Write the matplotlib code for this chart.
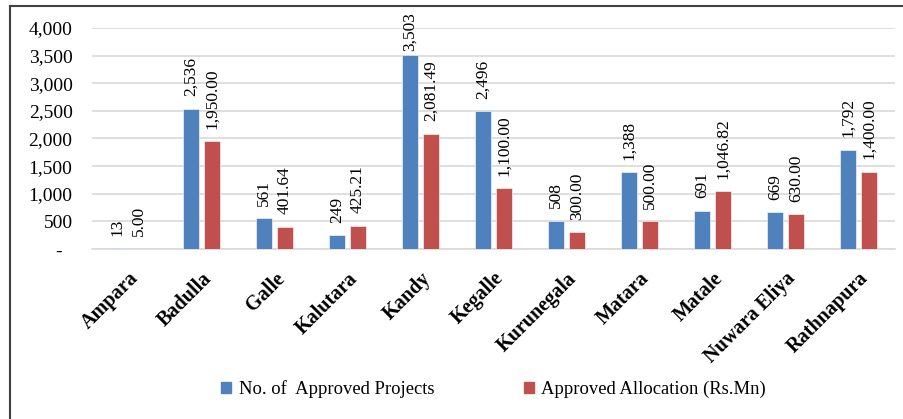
import matplotlib
matplotlib.use("Agg")
import matplotlib.pyplot as plt
import numpy as np
from matplotlib.patches import Patch
from matplotlib.lines import Line2D
from matplotlib.ticker import FuncFormatter

districts = ["Ampara", "Badulla", "Galle", "Kalutara", "Kandy", "Kegalle",
             "Kurunegala", "Matara", "Matale", "Nuwara Eliya", "Rathnapura"]
projects = [13, 2536, 561, 249, 3503, 2496, 508, 1388, 691, 669, 1792]
allocation = [5.00, 1950.00, 401.64, 425.21, 2081.49, 1100.00, 300.00, 500.00, 1046.82, 630.00, 1400.00]
y_ticks = [0, 500, 1000, 1500, 2000, 2500, 3000, 3500, 4000]

BLUE = "#4F81BD"
RED = "#C0504D"
GRID = "#D9D9D9"
SERIF = ["Liberation Serif", "DejaVu Serif"]

plt.rcParams["font.family"] = SERIF

fig = plt.figure(figsize=(9.04, 4.19), dpi=100)
ax = fig.add_axes([92 / 904, 1 - 249 / 419, (895 - 92) / 904, (249 - 28) / 419])

x = np.arange(len(districts))
w = 0.225
off = 0.145
ax.bar(x - off, projects, w, color=BLUE, edgecolor="white", linewidth=0.4, zorder=3)
ax.bar(x + off, allocation, w, color=RED, edgecolor="white", linewidth=0.4, zorder=3)

ymax = 4000
for xi, v in zip(x, projects):
    # Excel keeps labels inside the plot area, so the tallest one sits lower
    dy = 9 if v < 3200 else 3
    ax.annotate(f"{v:,}", (xi - off, v), xytext=(0, dy), textcoords="offset points",
                rotation=90, ha="center", va="bottom", fontsize=12.5, color="black",
                annotation_clip=False)
for xi, v in zip(x, allocation):
    ax.annotate(f"{v:,.2f}", (xi + off, v), xytext=(0, 9), textcoords="offset points",
                rotation=90, ha="center", va="bottom", fontsize=12.5, color="black")

ax.set_xlim(-0.5, len(districts) - 0.5)
ax.set_ylim(0, ymax)
ax.set_yticks(y_ticks)
ax.yaxis.set_major_formatter(FuncFormatter(lambda v, p: "-  " if v == 0 else f"{int(v):,}"))
ax.tick_params(axis="y", length=0, labelsize=14, pad=14)
ax.grid(axis="y", color=GRID, linewidth=1.2, zorder=0)
ax.set_axisbelow(True)
for s in ["top", "right", "left"]:
    ax.spines[s].set_visible(False)
ax.spines["bottom"].set_color(GRID)
ax.spines["bottom"].set_linewidth(1.2)

ax.set_xticks(x)
ax.set_xticklabels(districts, rotation=45, ha="right", rotation_mode="anchor",
                   fontsize=14.5, fontweight="bold")
ax.tick_params(axis="x", length=0, pad=14)

handles = [Patch(color=BLUE), Patch(color=RED)]
fig.legend(handles, ["No. of  Approved Projects", "Approved Allocation (Rs.Mn)"],
           loc="center", bbox_to_anchor=(0.546, 1 - 389 / 419), ncol=2, frameon=False,
           fontsize=13.4, handlelength=0.55, handleheight=0.55, handletextpad=0.4,
           columnspacing=4.8)

# chart border (left and top edges visible in the frame)
fig.add_artist(Line2D([10 / 904, 10 / 904], [0, 1 - 6 / 419], transform=fig.transFigure,
                      color="#404040", linewidth=1.5))
fig.add_artist(Line2D([10 / 904, 1], [1 - 6 / 419, 1 - 6 / 419], transform=fig.transFigure,
                      color="#404040", linewidth=1.5))

fig.savefig("out.png", dpi=100)
